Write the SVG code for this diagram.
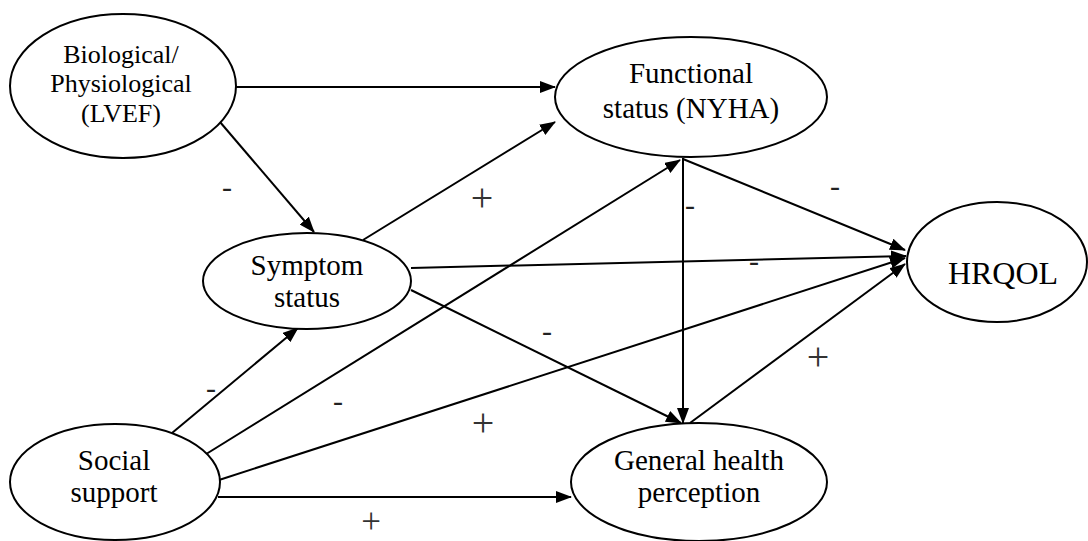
<svg xmlns="http://www.w3.org/2000/svg" width="1088" height="541" viewBox="0 0 1088 541">
<style>
.n{fill:#fff;stroke:#000;stroke-width:2}
.t{font-family:'Liberation Serif','Times New Roman',serif;font-size:29px;fill:#000;text-anchor:middle}
.e{stroke:#000;stroke-width:2;fill:none;marker-end:url(#ah)}
.l{font-family:'Liberation Serif','Times New Roman',serif;font-size:30px;fill:#222;text-anchor:middle}
.p{font-family:'Liberation Serif','Times New Roman',serif;font-size:40px;fill:#333;text-anchor:middle}
</style>
<defs>
<marker id="ah" markerUnits="userSpaceOnUse" markerWidth="16" markerHeight="12" refX="15" refY="6" orient="auto">
<path d="M0,0 L16,6 L0,12 z" fill="#000"/>
</marker>
</defs>
<g id="connectors">
<line class="e" x1="236" y1="87" x2="555" y2="87"/>
<line class="e" x1="220" y1="122" x2="314" y2="232"/>
<line class="e" x1="363" y1="240" x2="555" y2="122"/>
<line class="e" x1="411" y1="268" x2="906" y2="256"/>
<line class="e" x1="411" y1="290" x2="681" y2="423"/>
<line class="e" x1="683" y1="158" x2="683" y2="423"/>
<line class="e" x1="683" y1="159" x2="905" y2="250"/>
<line class="e" x1="172" y1="433" x2="298" y2="328"/>
<line class="e" x1="203" y1="456" x2="680" y2="160"/>
<line class="e" x1="219" y1="480" x2="905" y2="258"/>
<line class="e" x1="218" y1="497" x2="571" y2="497"/>
<line class="e" x1="690" y1="423" x2="905" y2="264"/>
</g>
<g id="bio">
<ellipse class="n" cx="123" cy="86" rx="113" ry="72"/>
<text class="t" style="font-size:26px" x="121" y="63">Biological/</text>
<text class="t" style="font-size:26px" x="121" y="92">Physiological</text>
<text class="t" style="font-size:26px" x="121" y="122">(LVEF)</text>
</g>
<g id="functional">
<ellipse class="n" cx="691" cy="97" rx="136" ry="60"/>
<text class="t" x="691" y="83">Functional</text>
<text class="t" x="691" y="118">status (NYHA)</text>
</g>
<g id="symptom">
<ellipse class="n" cx="307" cy="281" rx="104" ry="48"/>
<text class="t" x="307" y="275">Symptom</text>
<text class="t" x="307" y="307">status</text>
</g>
<g id="social">
<ellipse class="n" cx="115" cy="482" rx="105" ry="58"/>
<text class="t" x="114" y="470">Social</text>
<text class="t" x="114" y="502">support</text>
</g>
<g id="general">
<ellipse class="n" cx="699" cy="482" rx="128" ry="59"/>
<text class="t" x="699" y="470">General health</text>
<text class="t" x="699" y="502">perception</text>
</g>
<g id="hrqol">
<ellipse class="n" cx="997" cy="262" rx="90" ry="60"/>
<text class="t" style="font-size:32px" x="1003" y="284">HRQOL</text>
</g>
<g id="labels">
<text class="l" x="227" y="197">-</text>
<text class="p" x="482" y="211">+</text>
<text class="l" x="690" y="215">-</text>
<text class="l" x="835" y="196">-</text>
<text class="l" x="754" y="271">-</text>
<text class="l" x="547" y="341">-</text>
<text class="l" x="211" y="398">-</text>
<text class="l" x="338" y="411">-</text>
<text class="p" x="483" y="436">+</text>
<text class="p" x="818" y="370">+</text>
<text class="p" style="font-size:35px" x="371" y="533">+</text>
</g>
</svg>
